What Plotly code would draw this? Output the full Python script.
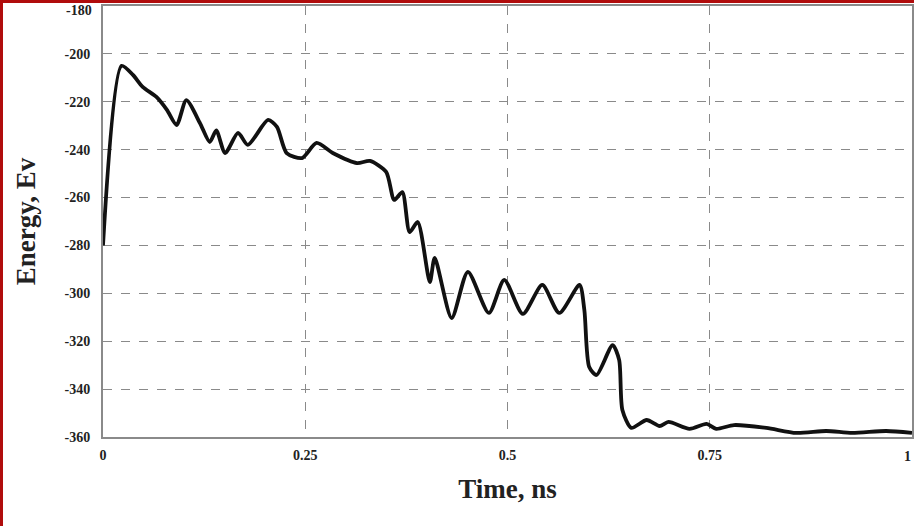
import plotly.graph_objects as go

time_ns = [0.0, 0.023, 0.037, 0.049, 0.066, 0.079, 0.091, 0.103, 0.12, 0.132, 0.14, 0.151,
           0.167, 0.179, 0.204, 0.215, 0.227, 0.246, 0.264, 0.284, 0.314, 0.33, 0.35, 0.36,
           0.37, 0.379, 0.389, 0.404, 0.41, 0.431, 0.451, 0.477, 0.496, 0.519, 0.543, 0.564,
           0.589, 0.595, 0.601, 0.61, 0.63, 0.638, 0.642, 0.653, 0.672, 0.688, 0.699, 0.725,
           0.746, 0.758, 0.78, 0.82, 0.857, 0.894, 0.926, 0.968, 1.0]
energy_ev = [-280, -205, -208.8, -213.8, -218, -223.4, -229.7, -219.3, -229, -236.8, -232, -241.4,
             -233, -238, -227.6, -230.5, -241.4, -243.5, -237.2, -241.4, -245.6, -244.7, -249.3, -261,
             -257.7, -274.4, -270.2, -295.3, -285.2, -310.3, -291, -308.2, -294.4, -308.6, -296.5, -308.2,
             -296.5, -307, -330.8, -334.1, -321.6, -327.8, -348.7, -356.2, -352.9, -355.4, -353.7, -356.6,
             -354.5, -356.6, -355, -356.2, -358.3, -357.5, -358.3, -357.5, -358.3]

x_ticks = [0, 0.25, 0.5, 0.75, 1]
x_tick_labels = ["0", "0.25", "0.5", "0.75", ""]
x_last_label = "1"
y_ticks = [-360, -340, -320, -300, -280, -260, -240, -220, -200, -180]
y_tick_labels = ["-360", "-340", "-320", "-300", "-280", "-260", "-240", "-220", "-200", ""]
y_top_label = "-180"

fig = go.Figure()
fig.add_trace(go.Scatter(
    x=time_ns, y=energy_ev, mode="lines",
    line=dict(color="#111111", width=3.8, shape="spline", smoothing=0.7),
    showlegend=False, hoverinfo="skip"))

font_family = "Liberation Serif, Times New Roman, serif"
tick_font = dict(family=font_family, size=14, color="#222222", weight="bold")
axis_common = dict(
    showline=True, linecolor="#8a8a8a", linewidth=2, mirror=True,
    showgrid=True, gridcolor="#8a8a8a", gridwidth=1, griddash="dash",
    zeroline=False, ticks="", automargin=False, ticklabeloverflow="allow",
    tickfont=tick_font,
)

fig.update_xaxes(range=[0, 1], tickvals=x_ticks, ticktext=x_tick_labels, ticklabelstandoff=4,
                 title=dict(text="Time, ns", standoff=17,
                            font=dict(family=font_family, size=27, color="#222222", weight="bold")),
                 **axis_common)
fig.update_yaxes(range=[-360, -180], tickvals=y_ticks, ticktext=y_tick_labels, ticklabelstandoff=8,
                 title=dict(text="Energy, Ev", standoff=21,
                            font=dict(family=font_family, size=27, color="#222222", weight="bold")),
                 **axis_common)

# edge tick labels, nudged inward so they stay inside the picture as in the original
fig.add_annotation(text=y_top_label, xref="paper", x=0, xanchor="right", xshift=-9,
                   yref="y", y=y_ticks[-1], yanchor="middle", yshift=-4,
                   showarrow=False, font=tick_font)
fig.add_annotation(text=x_last_label, xref="x", x=x_ticks[-1], xanchor="center", xshift=-5,
                   yref="paper", y=0, yanchor="top", yshift=-10,
                   showarrow=False, font=tick_font)

W, H = 914, 526
ml, mr, mt, mb = 103, 2, 6, 89
pw, ph = W - ml - mr, H - mt - mb
# dark red frame around the picture (left and top edges visible)
fig.add_shape(type="line", xref="paper", yref="paper",
              x0=(1.5 - ml) / pw, x1=(1.5 - ml) / pw,
              y0=-(H + 5 - mt - ph) / ph, y1=1 + (mt - 1) / ph,
              line=dict(color="#b00c0c", width=3), layer="above")
fig.add_shape(type="line", xref="paper", yref="paper",
              x0=(0 - ml) / pw, x1=(W + 5 - ml) / pw,
              y0=1 + (mt - 1.5) / ph, y1=1 + (mt - 1.5) / ph,
              line=dict(color="#b00c0c", width=3), layer="above")

fig.update_layout(
    width=W, height=H, margin=dict(l=ml, r=mr, t=mt, b=mb),
    paper_bgcolor="white", plot_bgcolor="white",
)
fig.write_html("out.html", config={"displayModeBar": False},
               post_script="document.body.style.margin='0';document.body.style.overflow='hidden';")
